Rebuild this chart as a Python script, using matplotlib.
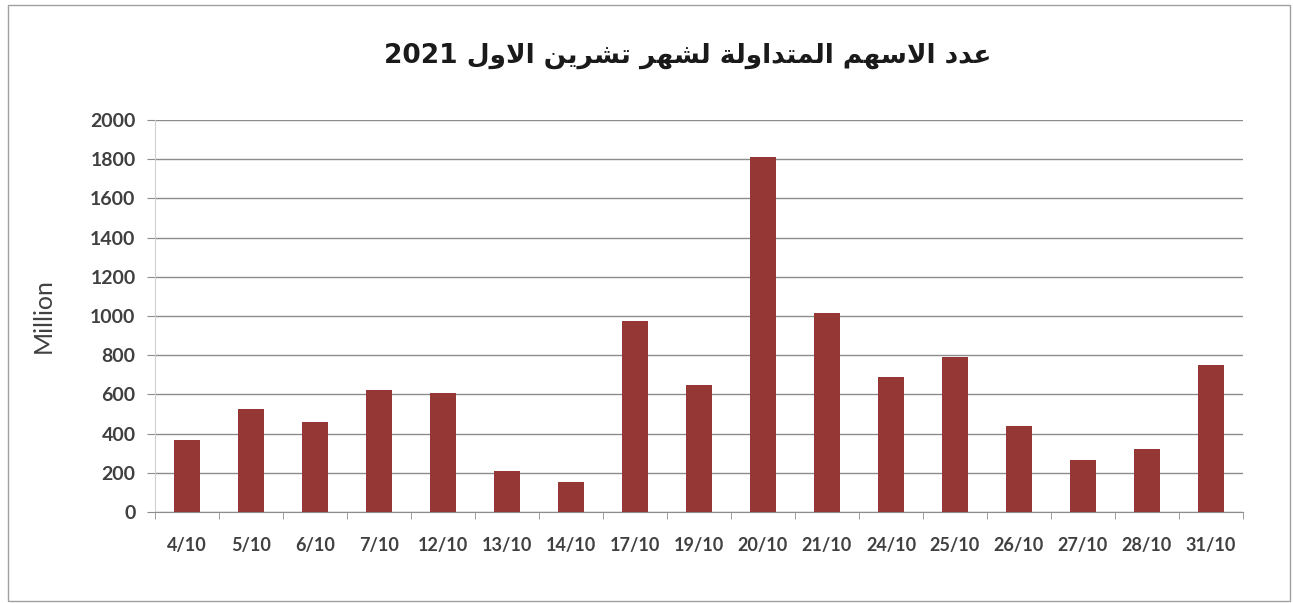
import matplotlib
matplotlib.use("Agg")
import matplotlib.pyplot as plt
from matplotlib.patches import Rectangle
import numpy as np

# values (million shares)
dates = ["4/10", "5/10", "6/10", "7/10", "12/10", "13/10", "14/10", "17/10", "19/10",
         "20/10", "21/10", "24/10", "25/10", "26/10", "27/10", "28/10", "31/10"]
volumes = [368, 525, 457, 620, 607, 209, 153, 972, 649,
           1809, 1013, 691, 793, 437, 265, 319, 751]
y_ticks = [0, 200, 400, 600, 800, 1000, 1200, 1400, 1600, 1800, 2000]

TITLE = "عدد الاسهم المتداولة لشهر تشرين الاول 2021"
Y_LABEL = "Million"

BAR_COLOR = "#953735"
TEXT_COLOR = "#404040"
GRID_COLOR = "#8c8c8c"

# matplotlib does no arabic shaping, so pick the presentation forms by hand
# (isolated, final, initial, medial); None = letter does not join to the left
FORMS = {
    "ا": (0xFE8D, 0xFE8E, None, None),
    "د": (0xFEA9, 0xFEAA, None, None),
    "ر": (0xFEAD, 0xFEAE, None, None),
    "و": (0xFEED, 0xFEEE, None, None),
    "ة": (0xFE93, 0xFE94, None, None),
    "ل": (0xFEDD, 0xFEDE, 0xFEDF, 0xFEE0),
    "ع": (0xFEC9, 0xFECA, 0xFECB, 0xFECC),
    "س": (0xFEB1, 0xFEB2, 0xFEB3, 0xFEB4),
    "ش": (0xFEB5, 0xFEB6, 0xFEB7, 0xFEB8),
    "ه": (0xFEE9, 0xFEEA, 0xFEEB, 0xFEEC),
    "م": (0xFEE1, 0xFEE2, 0xFEE3, 0xFEE4),
    "ت": (0xFE95, 0xFE96, 0xFE97, 0xFE98),
    "ي": (0xFEF1, 0xFEF2, 0xFEF3, 0xFEF4),
    "ن": (0xFEE5, 0xFEE6, 0xFEE7, 0xFEE8),
}


def shape_word(word):
    out = []
    i = 0
    n = len(word)
    while i < n:
        c = word[i]
        prev_joins = i > 0 and FORMS[word[i - 1]][2] is not None
        if c == "ل" and i + 1 < n and word[i + 1] == "ا":
            out.append(chr(0xFEFC if prev_joins else 0xFEFB))  # lam-alef
            i += 2
            continue
        iso, fin, ini, med = FORMS[c]
        next_joins = ini is not None and i + 1 < n
        if prev_joins and next_joins:
            g = med
        elif prev_joins:
            g = fin
        elif next_joins:
            g = ini
        else:
            g = iso
        out.append(chr(g))
        i += 1
    return "".join(reversed(out))


def visual_rtl(text):
    words = text.split()
    return " ".join(w if w.isdigit() else shape_word(w) for w in reversed(words))


fig = plt.figure(figsize=(12.93, 6.03), dpi=100)
ax = fig.add_axes([155 / 1293, 1 - 512 / 603, (1243 - 155) / 1293, (512 - 120) / 603])

x = np.arange(len(dates))
ax.bar(x, volumes, width=0.42, color=BAR_COLOR, zorder=3)

ax.set_xlim(-0.5, len(dates) - 0.5)
ax.set_ylim(0, 2000)
ax.set_yticks(y_ticks)
ax.set_yticklabels([str(v) for v in y_ticks])
ax.yaxis.grid(True, color=GRID_COLOR, linewidth=1.0, zorder=0)
ax.tick_params(axis="y", length=6, color=GRID_COLOR, pad=8)

ax.set_xticks(x)
ax.set_xticklabels(dates)
ax.set_xticks(np.arange(len(dates) + 1) - 0.5, minor=True)
ax.tick_params(axis="x", which="major", length=0, pad=18)
ax.tick_params(axis="x", which="minor", length=5, color=GRID_COLOR)

for lbl in ax.get_xticklabels():
    lbl.set_fontfamily("Lato")
    lbl.set_fontweight("bold")
    lbl.set_fontsize(13)
    lbl.set_color(TEXT_COLOR)
for lbl in ax.get_yticklabels():
    lbl.set_fontfamily("Lato")
    lbl.set_fontweight("bold")
    lbl.set_fontsize(14)
    lbl.set_color(TEXT_COLOR)

for side in ["top", "right"]:
    ax.spines[side].set_visible(False)
ax.spines["left"].set_color("#d0d0d0")
ax.spines["bottom"].set_color(GRID_COLOR)

ax.set_ylabel(Y_LABEL, fontsize=18, color=TEXT_COLOR, family="Lato")
ax.yaxis.set_label_coords(-0.092, 0.5)

fig.text(688 / 1293, 1 - 56 / 603, visual_rtl(TITLE), ha="center", va="center",
         fontsize=19, fontweight="bold", family=["DejaVu Sans"], color="#1a1a1a")

# thin frame around the whole chart
fig.patches.append(Rectangle((8 / 1293, 2 / 603), 1282 / 1293, 596 / 603,
                             transform=fig.transFigure, fill=False,
                             edgecolor="#a0a0a0", linewidth=1.0))

fig.savefig("out.png", dpi=100)
